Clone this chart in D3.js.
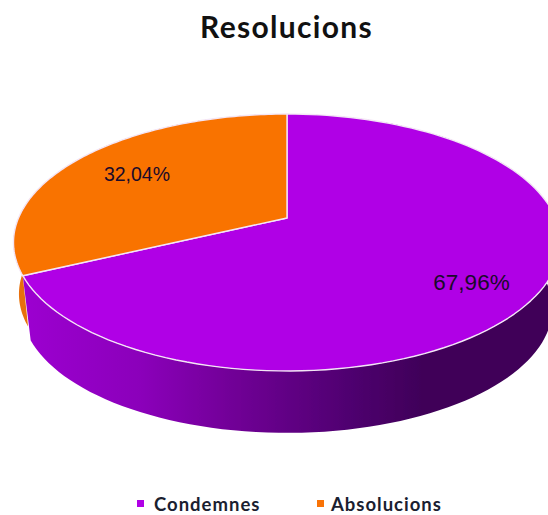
<!DOCTYPE html>
<html><head><meta charset="utf-8">
<script src="https://cdn.jsdelivr.net/npm/d3@7"></script>
<style>html,body{margin:0;padding:0;background:#fff;overflow:hidden}svg{display:block}</style>
</head><body><div id="c"></div>
<script>
const title = "Resolucions";
const categories = ["Condemnes", "Absolucions"];
const values = [67.96, 32.04];
const labels = ["67,96%", "32,04%"];
const colors = ["#b000e6", "#f97306"];
const width = 548, height = 515;
const apex = [287, 218], radX = 268.5, radY = 123.8, tilt = 0.1907;
const depths = [66.5, 52], baseScales = [0.97, 0.98];

const svg = d3.select("#c").append("svg").attr("width", width).attr("height", height);
const defs = svg.append("defs");
defs.append("filter").attr("id","soft").append("feGaussianBlur").attr("stdDeviation",0.55);
const grad = defs.append("linearGradient").attr("id","side").attr("gradientUnits","userSpaceOnUse")
  .attr("x1",25).attr("x2",425).attr("y1",0).attr("y2",0);
[[0,"#9c00d0"],[0.29,"#8b00ba"],[0.51,"#720098"],[0.81,"#4f0070"],[1,"#3f0058"]]
  .forEach(([o,c])=>grad.append("stop").attr("offset",o).attr("stop-color",c));
const root = svg.append("g").attr("filter","url(#soft)");

function project(a, s, dy){
  const X = Math.sin(a), Y = Math.cos(a), w = 1 + tilt*Y;
  return [apex[0] + s*radX*X/w, apex[1] - s*radY*Y/w + dy];
}
const arcs = d3.pie().sort(null).value(d=>d)(values);
const line = d3.line();
const samples = (a0,a1) => d3.range(0,121).map(i=>a0+(a1-a0)*i/120);
const topEdge = (a0,a1)=>samples(a0,a1).map(a=>project(a,1,0));

// sides: the orange one first, the purple one in front of it
[1,0].forEach(i=>{
  const d = arcs[i];
  const base = samples(d.startAngle,d.endAngle).map(a=>project(a,baseScales[i],depths[i]));
  const pts = topEdge(d.startAngle,d.endAngle).concat(base.reverse());
  root.append("path").attr("d",line(pts)+"Z")
    .attr("fill", i===0 ? "url(#side)" : "#e8700a");
});
// tops
arcs.forEach((d,i)=>{
  const pts=[apex].concat(topEdge(d.startAngle,d.endAngle));
  root.append("path").attr("d",line(pts)+"Z").attr("fill",colors[i]).attr("stroke","#f4e6f6").attr("stroke-width",1.4).attr("stroke-linejoin","round");
});
// text
svg.append("text").attr("x",286.5).attr("y",38).attr("text-anchor","middle")
  .attr("font-family","Lato").attr("font-weight",700).attr("font-size",30).attr("letter-spacing",1.3).attr("fill","#111").text(title);
const labelPos=[[471.5,290,22.5],[137,181,19.5]];
labels.forEach((t,i)=>svg.append("text").attr("x",labelPos[i][0]).attr("y",labelPos[i][1]).attr("text-anchor","middle")
  .attr("font-family","Liberation Sans").attr("font-size",labelPos[i][2]).attr("fill","#1a0a2a").text(t));
const legendX=[137,317], legendTextX=[154,331];
categories.forEach((t,i)=>{
  svg.append("rect").attr("x",legendX[i]).attr("y",500).attr("width",7).attr("height",7).attr("fill",colors[i]);
  svg.append("text").attr("x",legendTextX[i]).attr("y",511).attr("font-family","Lato").attr("font-weight",700)
    .attr("font-size",18.5).attr("letter-spacing",1).attr("fill","#1a2030").text(t);
});
</script></body></html>
